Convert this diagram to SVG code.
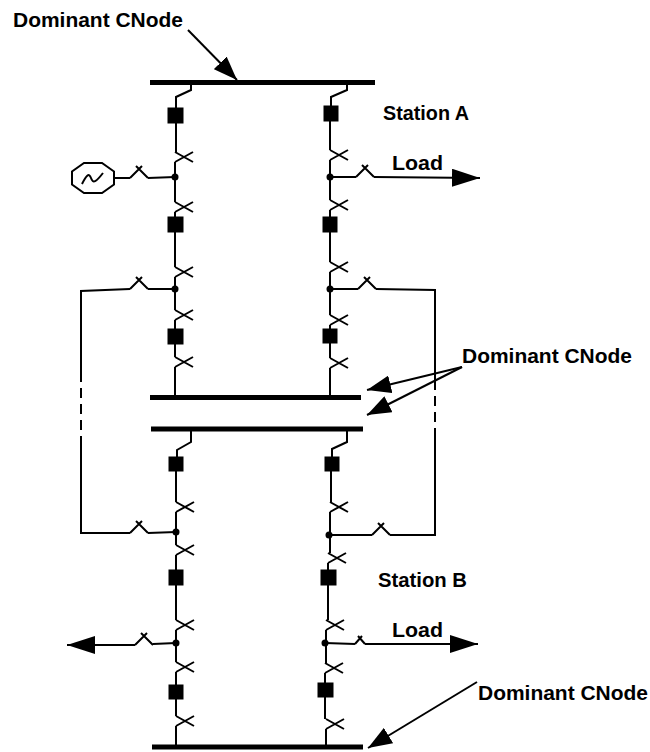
<svg xmlns="http://www.w3.org/2000/svg" xmlns:xlink="http://www.w3.org/1999/xlink" width="650" height="752" viewBox="0 0 650 752">
<style>
.ln{fill:none;stroke:#000;stroke-width:2;stroke-linejoin:miter}
.bus{stroke:#000;stroke-width:5}
.cb{fill:#000;stroke:#000;stroke-width:1}
.dot{fill:#000}
.dash{fill:none;stroke:#000;stroke-width:2;stroke-dasharray:10 6}
.lbl{font-family:"Liberation Sans",Arial,sans-serif;font-weight:bold;font-size:20px;fill:#000}
.gen{fill:#fff;stroke:#000;stroke-width:2}
</style>
<defs>
<path id="vx" class="ln" d="M0 0 L18 10 M0 10 L18 0"/>
<path id="hx" class="ln" d="M0 0 L12 -12 M6 -12 L18 0"/>
<path id="hxs" class="ln" d="M0 0 L7 -8 M3 -8 L10 0"/>
<marker id="ah" markerUnits="userSpaceOnUse" markerWidth="28" markerHeight="18" refX="28" refY="9" orient="auto" viewBox="0 0 28 18"><path d="M0 0 L28 9 L0 18 Z" fill="#000"/></marker>
<marker id="ap" markerUnits="userSpaceOnUse" markerWidth="24" markerHeight="18" refX="24" refY="9" orient="auto" viewBox="0 0 24 18"><path d="M0 0 L24 9 L0 18 Z" fill="#000"/></marker>
</defs>

<g id="busbars">
<line id="bus1" class="bus" x1="150" y1="82.5" x2="375" y2="82.5"/>
<line id="bus2" class="bus" x1="150" y1="397.5" x2="361" y2="397.5"/>
<line id="bus3" class="bus" x1="151" y1="429" x2="363" y2="429"/>
<line id="bus4" class="bus" x1="152" y1="747" x2="363" y2="747"/>
</g>

<g id="connectors">
<path class="ln" d="M191 82 V90 L176 97 V108 M176 123 V152 M175 162 V202 M175 212 V217 M175 232 V267 M175 277 V310 M175 320 V329 M175 344 V357 M175 367 V397"/>
<path class="ln" d="M347 82 V90 L331 97 V106 M330 121 V150 M330 160 V200 M330 210 V217 M330 232 V262 M330 272 V315 M330 325 V329 M330 343 V358 M330 368 V397"/>
<path class="ln" d="M191 429 V442 L177 450 V457 M176 471 V502 M176 512 V545 M176 555 V570 M176 585 V620 M176 630 V662 M176 672 V685 M176 699 V716 M176 726 V747"/>
<path class="ln" d="M347 429 V442 L332 449 V457 M331 471 V502 M330 512 V553 M328 563 V570 M328 585 V620 M326 630 V663 M325 673 V683 M325 697 V719 M326 729 V747"/>
<path class="ln" d="M175 177 L148 178 M130 178 L115 178"/>
<path class="ln" d="M330 177 L356 177"/>
<path class="ln" d="M374 177 L480 178" marker-end="url(#ah)"/>
<path class="ln" d="M175 289 L148 289 M130 289 L81 291 V372 M81 437 V533 L130 533 M148 533 L176 532"/>
<path class="dash" d="M81 372 V437"/>
<path class="ln" d="M330 289 L358 289 M376 289 L435 290 V380 M435 438 V535 L390 535 M372 535 L329 535"/>
<path class="dash" d="M435 380 V438"/>
<path class="ln" d="M176 643 L153 644"/>
<path class="ln" d="M135 645 L67 645" marker-end="url(#ah)"/>
<path class="ln" d="M325 643 L355 644"/>
<path class="ln" d="M365 644 L478 644" marker-end="url(#ah)"/>
<path class="ln" d="M188 30 L237 80" marker-end="url(#ap)"/>
<path class="ln" d="M462 367 L367 390" marker-end="url(#ap)"/>
<path class="ln" d="M462 367 L367 415" marker-end="url(#ap)"/>
<path class="ln" d="M477 682 L368 748" marker-end="url(#ap)"/>
</g>

<g id="switches">
<use xlink:href="#vx" x="175" y="152"/>
<use xlink:href="#vx" x="175" y="202"/>
<use xlink:href="#vx" x="175" y="267"/>
<use xlink:href="#vx" x="175" y="310"/>
<use xlink:href="#vx" x="175" y="357"/>
<use xlink:href="#vx" x="330" y="150"/>
<use xlink:href="#vx" x="330" y="200"/>
<use xlink:href="#vx" x="330" y="262"/>
<use xlink:href="#vx" x="330" y="315"/>
<use xlink:href="#vx" x="330" y="358"/>
<use xlink:href="#vx" x="176" y="502"/>
<use xlink:href="#vx" x="176" y="545"/>
<use xlink:href="#vx" x="176" y="620"/>
<use xlink:href="#vx" x="176" y="662"/>
<use xlink:href="#vx" x="176" y="716"/>
<use xlink:href="#vx" x="330" y="502"/>
<use xlink:href="#vx" x="328" y="553"/>
<use xlink:href="#vx" x="326" y="620"/>
<use xlink:href="#vx" x="325" y="663"/>
<use xlink:href="#vx" x="326" y="719"/>
<use xlink:href="#hx" x="130" y="178"/>
<use xlink:href="#hx" x="356" y="177"/>
<use xlink:href="#hx" x="130" y="289"/>
<use xlink:href="#hx" x="358" y="289"/>
<use xlink:href="#hx" x="130" y="533"/>
<use xlink:href="#hx" x="372" y="535"/>
<use xlink:href="#hx" x="135" y="645"/>
<use xlink:href="#hxs" x="355" y="644"/>
</g>

<g id="breakers">
<rect class="cb" x="168" y="108" width="15" height="15"/>
<rect class="cb" x="168" y="217" width="15" height="15"/>
<rect class="cb" x="168" y="329" width="15" height="15"/>
<rect class="cb" x="324" y="106" width="14" height="15"/>
<rect class="cb" x="323" y="217" width="14" height="15"/>
<rect class="cb" x="323" y="329" width="14" height="14"/>
<rect class="cb" x="169" y="457" width="14" height="14"/>
<rect class="cb" x="169" y="570" width="14" height="15"/>
<rect class="cb" x="169" y="685" width="14" height="14"/>
<rect class="cb" x="325" y="457" width="14" height="14"/>
<rect class="cb" x="321" y="570" width="15" height="15"/>
<rect class="cb" x="318" y="683" width="15" height="14"/>
</g>

<g id="nodes">
<circle class="dot" cx="175" cy="177" r="3.5"/>
<circle class="dot" cx="175" cy="289" r="3.5"/>
<circle class="dot" cx="330" cy="177" r="3.5"/>
<circle class="dot" cx="330" cy="289" r="3.5"/>
<circle class="dot" cx="176" cy="532" r="3.5"/>
<circle class="dot" cx="176" cy="643" r="3.5"/>
<circle class="dot" cx="329" cy="535" r="3.5"/>
<circle class="dot" cx="325" cy="643" r="3.5"/>
</g>

<g id="generator">
<polygon class="gen" points="114,171.5 102,163 84,163 72,171.5 72,184.5 84,193 102,193 114,184.5"/>
<path class="ln" d="M82 184 C86 176 89 172 91 178 C93 184 96 182 103 173"/>
</g>

<g id="labels">
<text class="lbl" x="13" y="27" textLength="170" lengthAdjust="spacingAndGlyphs">Dominant CNode</text>
<text class="lbl" x="383" y="120" textLength="86" lengthAdjust="spacingAndGlyphs">Station A</text>
<text class="lbl" x="392" y="170" textLength="51" lengthAdjust="spacingAndGlyphs">Load</text>
<text class="lbl" x="462" y="363" textLength="170" lengthAdjust="spacingAndGlyphs">Dominant CNode</text>
<text class="lbl" x="378" y="587" textLength="89" lengthAdjust="spacingAndGlyphs">Station B</text>
<text class="lbl" x="392" y="637" textLength="51" lengthAdjust="spacingAndGlyphs">Load</text>
<text class="lbl" x="478" y="700" textLength="170" lengthAdjust="spacingAndGlyphs">Dominant CNode</text>
</g>
</svg>
